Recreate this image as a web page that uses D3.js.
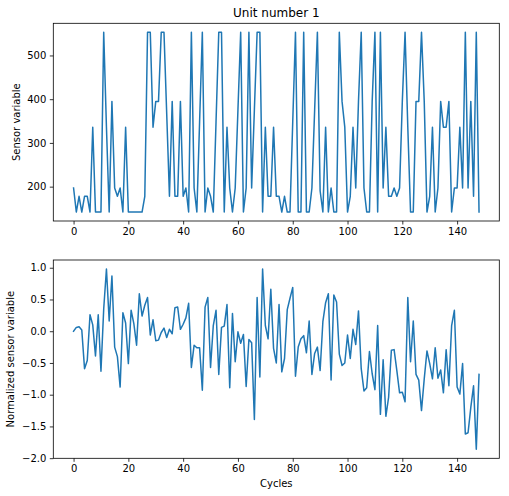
<!DOCTYPE html>
<html>
<head>
<meta charset="utf-8">
<script src="https://cdn.jsdelivr.net/npm/d3@7"></script>
<style>
  body { margin: 0; background: #fff; }
  svg { display: block; font-family: "DejaVu Sans", sans-serif; }
</style>
</head>
<body>
<svg id="chart" width="509" height="496"></svg>
<script>
// raw sensor reading per cycle (unit 1)
const sensor = [
  197, 142, 178, 142, 178, 178, 142, 336, 142, 142,
  142, 553, 336, 142, 395, 197, 178, 197, 142, 336,
  142, 142, 142, 142, 142, 142, 178, 553, 553, 336,
  395, 395, 553, 553, 366, 178, 395, 178, 178, 395,
  178, 197, 142, 553, 197, 142, 348, 553, 142, 197,
  178, 142, 348, 553, 553, 142, 336, 197, 142, 197,
  376, 553, 142, 197, 553, 197, 376, 553, 553, 142,
  336, 178, 178, 336, 178, 178, 142, 178, 142, 142,
  348, 553, 142, 142, 553, 142, 142, 197, 376, 553,
  190, 142, 336, 142, 197, 142, 142, 553, 395, 336,
  142, 178, 336, 197, 395, 553, 197, 142, 142, 395,
  553, 142, 553, 197, 336, 178, 178, 197, 178, 197,
  395, 553, 336, 142, 142, 395, 395, 553, 395, 142,
  178, 336, 142, 197, 395, 336, 336, 395, 142, 197,
  197, 336, 197, 553, 197, 395, 178, 553, 142
];

// normalized reading per cycle
const normalized = [
  0.00, 0.06, 0.07, 0.02, -0.59, -0.46, 0.26, 0.10, -0.39, 0.26,
  -0.63, 0.35, 0.98, 0.16, 0.87, -0.25, -0.40, -0.88, 0.29, 0.13,
  -0.51, 0.33, 0.12, -0.22, 0.59, 0.24, 0.41, 0.53, -0.06, 0.18,
  -0.15, -0.14, -0.02, 0.05, -0.10, 0.03, -0.04, 0.37, 0.38, 0.03,
  0.11, 0.21, 0.44, -0.57, -0.22, -0.26, -0.26, -0.93, 0.38, 0.53,
  -0.57, 0.09, 0.33, -0.68, 0.06, 0.08, 0.42, -0.89, 0.28, -0.48,
  -0.01, -0.19, -0.05, -0.87, -0.13, -0.18, -1.39, 0.53, -0.72, 0.98,
  0.09, -0.12, 0.66, -0.27, -0.50, 0.42, -0.64, -0.43, 0.34, 0.52,
  0.69, -0.71, -0.25, -0.12, -0.07, -0.34, 0.16, -0.68, -0.35, -0.25,
  -0.62, 0.15, 0.45, 0.59, -0.77, 0.57, 0.46, -0.36, -0.54, -0.50,
  -0.06, -0.43, 0.03, -0.21, 0.32, -0.59, -0.94, -0.89, -0.32, -0.67,
  -0.92, 0.09, -1.31, -0.45, -1.34, -1.04, -0.30, -0.29, -0.62, -0.97,
  -0.96, -1.11, 0.53, -0.48, 0.16, -0.68, -0.77, -1.25, -0.75, -0.31,
  -0.51, -0.75, -0.26, -0.74, -0.61, -0.97, -0.29, -0.86, 0.09, 0.33,
  -0.88, -0.99, -0.51, -1.62, -1.60, -1.20, -0.86, -1.86, -0.68
];

const cycles = d3.range(sensor.length);
const xTicks = [0, 20, 40, 60, 80, 100, 120, 140];
const sensorTicks = [200, 300, 400, 500];
const normTicks = [1.0, 0.5, 0.0, -0.5, -1.0, -1.5, -2.0];

const svg = d3.select('#chart');
const left = 53.3, right = 499.3;
const panels = [
  {values: sensor, top: 23.3, bottom: 221, ticks: sensorTicks, fmt: d3.format('d'),
   ylabel: 'Sensor variable', labelX: 20, title: 'Unit number 1'},
  {values: normalized, top: 260, bottom: 458.3, ticks: normTicks, fmt: d3.format('.1f'),
   ylabel: 'Normalized sensor variable', labelX: 14, xlabel: 'Cycles'}
];

// matplotlib-like 5% margins
function padded(ext) {
  const m = (ext[1] - ext[0]) * 0.05;
  return [ext[0] - m, ext[1] + m];
}

const x = d3.scaleLinear().domain(padded(d3.extent(cycles))).range([left, right]);

panels.forEach(p => {
  const y = d3.scaleLinear().domain(padded(d3.extent(p.values))).range([p.bottom, p.top]);

  const line = d3.line()
    .x((d, i) => x(i))
    .y(d => y(d));

  svg.append('path')
    .datum(p.values)
    .attr('fill', 'none')
    .attr('stroke', '#1f77b4')
    .attr('stroke-width', 1.5)
    .attr('stroke-linejoin', 'round')
    .attr('stroke-linecap', 'square')
    .attr('d', line);

  const xAxis = svg.append('g')
    .attr('transform', `translate(0,${p.bottom})`)
    .call(d3.axisBottom(x).tickValues(xTicks).tickSize(3.5).tickPadding(3.5).tickSizeOuter(0));

  const yAxis = svg.append('g')
    .attr('transform', `translate(${left},0)`)
    .call(d3.axisLeft(y).tickValues(p.ticks).tickFormat(p.fmt).tickSize(3.5).tickPadding(3.5).tickSizeOuter(0));

  [xAxis, yAxis].forEach(g => {
    g.select('.domain').remove();
    g.selectAll('line').attr('stroke', '#000').attr('stroke-width', 0.8);
    g.selectAll('text').attr('fill', '#000').style('font-size', '10px')
      .style('font-family', '"DejaVu Sans", sans-serif');
  });

  svg.append('rect')
    .attr('x', left)
    .attr('y', p.top)
    .attr('width', right - left)
    .attr('height', p.bottom - p.top)
    .attr('fill', 'none')
    .attr('stroke', '#000')
    .attr('stroke-width', 0.8);

  svg.append('text')
    .attr('transform', `translate(${p.labelX},${(p.top + p.bottom) / 2}) rotate(-90)`)
    .attr('text-anchor', 'middle')
    .style('font-size', '10px')
    .text(p.ylabel);

  if (p.title) {
    svg.append('text')
      .attr('x', (left + right) / 2)
      .attr('y', p.top - 6.5)
      .attr('text-anchor', 'middle')
      .style('font-size', '12px')
      .text(p.title);
  }

  if (p.xlabel) {
    svg.append('text')
      .attr('x', (left + right) / 2)
      .attr('y', p.bottom + 29)
      .attr('text-anchor', 'middle')
      .style('font-size', '10px')
      .text(p.xlabel);
  }
});
</script>
</body>
</html>
